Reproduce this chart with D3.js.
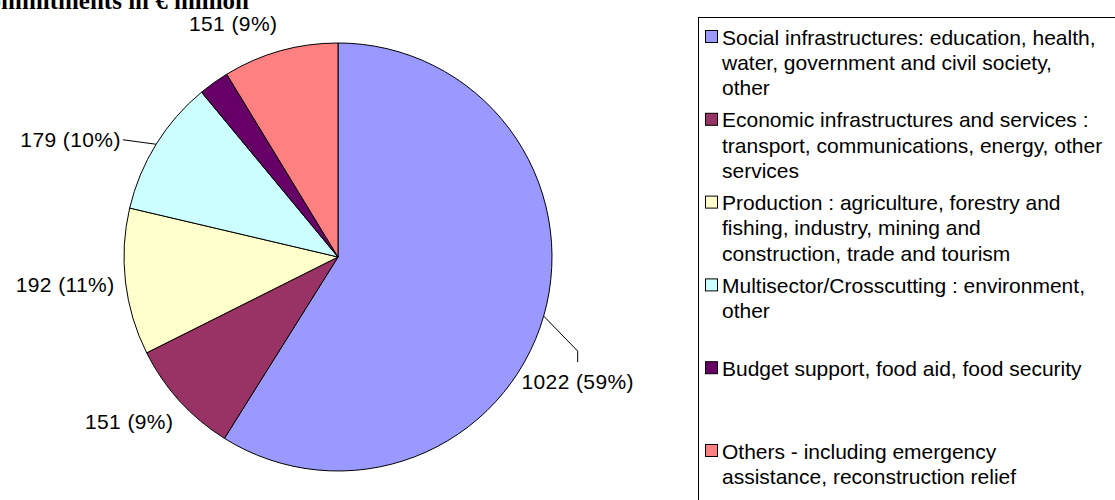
<!DOCTYPE html>
<html>
<head>
<meta charset="utf-8">
<script src="https://cdn.jsdelivr.net/npm/d3@7"></script>
<style>
  html, body { margin: 0; padding: 0; background: #fff; }
  svg { display: block; }
  text { font-family: "Liberation Sans", Arial, sans-serif; fill: #000; }
</style>
</head>
<body>
<svg id="chart" width="1115" height="500"></svg>
<script>
// ---- data ----
const categories = [
  "Social infrastructures: education, health, water, government and civil society, other",
  "Economic infrastructures and services : transport, communications, energy, other services",
  "Production : agriculture, forestry and fishing, industry, mining and construction, trade and tourism",
  "Multisector/Crosscutting : environment, other",
  "Budget support, food aid, food security",
  "Others - including emergency assistance, reconstruction relief"
];
const legendLines = [
  ["Social infrastructures: education, health,", "water, government and civil society,", "other"],
  ["Economic infrastructures and services :", "transport, communications, energy, other", "services"],
  ["Production : agriculture, forestry and", "fishing, industry, mining and", "construction, trade and tourism"],
  ["Multisector/Crosscutting : environment,", "other"],
  ["Budget support, food aid, food security"],
  ["Others - including emergency", "assistance, reconstruction relief"]
];
const values = [1022, 151, 192, 179, 40, 151];
const percentLabels = ["59%", "9%", "11%", "10%", "2%", "9%"];
const showLabel = [true, true, true, true, false, true];
const colors = ["#9999FF", "#993366", "#FFFFCC", "#CCFFFF", "#660066", "#FF8080"];
const title = "Commitments in € million";

// ---- layout ----
const W = 1115, H = 500;
const cx = 338, cy = 257, R = 214;
const fontSize = 21;

const svg = d3.select("#chart");

// title (clipped at top like the reference)
svg.append("text")
  .attr("x", 249).attr("y", 9)
  .attr("text-anchor", "end")
  .style("font-family", "'Liberation Serif', 'Times New Roman', serif")
  .style("font-weight", "bold")
  .style("font-size", "25px")
  .text(title);

const pie = d3.pie().sort(null).value(d => d).startAngle(0).endAngle(2 * Math.PI);
const arcs = pie(values);
const arc = d3.arc().innerRadius(0).outerRadius(R);

const g = svg.append("g").attr("transform", `translate(${cx},${cy})`);
g.selectAll("path.slice")
  .data(arcs)
  .join("path")
  .attr("class", "slice")
  .attr("d", arc)
  .attr("fill", (d, i) => colors[i])
  .attr("stroke", "#000")
  .attr("stroke-width", 1);

// label placement: anchor at mid-angle just outside the pie, with per-slice nudges
const labelR = R + 18;
const nudges = [null, [7, 8], [7, 0], [-20, 5], null, [2, -10]];
function polar(a, r) { return [r * Math.sin(a), -r * Math.cos(a)]; }

arcs.forEach((d, i) => {
  if (!showLabel[i]) return;
  const mid = (d.startAngle + d.endAngle) / 2;
  const txt = `${values[i]} (${percentLabels[i]})`;
  if (i === 0) {
    const edge = polar(mid, R);
    const elbow = [edge[0] + 34, edge[1] + 35];
    const end = [elbow[0], elbow[1] + 11];
    g.append("polyline")
      .attr("points", [edge, elbow, end].map(p => p.join(",")).join(" "))
      .attr("fill", "none").attr("stroke", "#000").attr("stroke-width", 1);
    g.append("text")
      .attr("x", end[0]).attr("y", end[1] + 20 + 7)
      .attr("text-anchor", "middle")
      .style("font-size", fontSize + "px")
      .style("letter-spacing", "0.4px")
      .text(txt);
    return;
  }
  const p = polar(mid, labelR);
  const [dx, dy] = nudges[i];
  const tx = p[0] + dx, ty = p[1] + dy;
  g.append("text")
    .attr("x", tx).attr("y", ty + 7.5)
    .attr("text-anchor", "end")
    .style("font-size", fontSize + "px")
    .style("letter-spacing", "0.4px")
    .text(txt);
  if (i === 3) {
    const edge = polar(mid, R);
    g.append("line")
      .attr("x1", tx + 2).attr("y1", ty)
      .attr("x2", edge[0]).attr("y2", edge[1])
      .attr("stroke", "#000").attr("stroke-width", 1);
  }
});

// legend
const legX = 698.5, legY = 17.5;
svg.append("rect")
  .attr("x", legX).attr("y", legY)
  .attr("width", 520).attr("height", 520)
  .attr("fill", "#fff").attr("stroke", "#000").attr("stroke-width", 1);

const entryStep = 82.8, lineStep = 25.3, firstY = 37;
const leg = svg.append("g");
legendLines.forEach((lines, i) => {
  const y0 = firstY + i * entryStep;
  leg.append("rect")
    .attr("x", 705.5).attr("y", y0 - 6.5)
    .attr("width", 12).attr("height", 12)
    .attr("fill", colors[i]).attr("stroke", "#000").attr("stroke-width", 1);
  const t = leg.append("text")
    .attr("x", 722).attr("y", y0 + 7.5)
    .style("font-size", fontSize + "px");
  lines.forEach((ln, j) => {
    t.append("tspan").attr("x", 722).attr("y", y0 + 7.5 + j * lineStep).text(ln);
  });
});
</script>
</body>
</html>
